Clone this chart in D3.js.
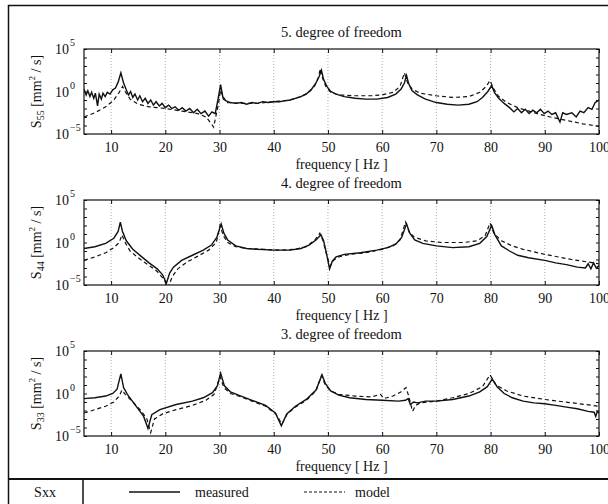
<!DOCTYPE html>
<html>
<head>
<meta charset="utf-8">
<script src="https://cdn.jsdelivr.net/npm/d3@7"></script>
<style>
  body { margin: 0; background: #fff; }
  text { font-family: "Liberation Serif", "Times New Roman", serif; fill: #111; }
</style>
</head>
<body>
<svg id="chart" width="608" height="504"></svg>
<script>
// x ticks and y decades
const freqTicks = [10, 20, 30, 40, 50, 60, 70, 80, 90, 100];
const gridFreqs = [10, 20, 30, 40, 50, 60, 70, 80, 90];
const decadeTicks = [-5, -4, -3, -2, -1, 0, 1, 2, 3, 4, 5];
const decadeLabels = [5, 0, -5];
const panelTitles = ["5. degree of freedom", "4. degree of freedom", "3. degree of freedom"];
const panelSubs = ["55", "44", "33"];

// [frequency Hz, log10 of S]
const s55Measured = [[5,0.3],[5.4,-0.4],[5.7,0.1],[6.1,-0.6],[6.4,-0.1],[6.8,-0.8],[7.1,-0.2],[7.5,-1.7],[7.8,-0.3],[8.2,-0.9],[8.5,-0.2],[8.9,-0.6],[9.3,-0.1],[9.8,-0.3],[10.3,0.2],[10.8,0.4],[11.3,1.1],[11.8,2.2],[12.3,1.0],[12.8,0.2],[13.2,-0.4],[13.6,0.0],[14.0,-0.7],[14.4,-0.3],[14.9,-1.0],[15.3,-0.5],[15.8,-1.2],[16.3,-0.8],[16.8,-1.4],[17.3,-1.0],[17.8,-1.6],[18.3,-1.2],[18.9,-1.7],[19.4,-1.4],[20.0,-1.9],[20.6,-1.6],[21.2,-2.0],[21.8,-1.8],[22.5,-2.2],[23.1,-1.9],[23.8,-2.3],[24.5,-2.0],[25.2,-2.5],[25.9,-2.1],[26.6,-2.6],[27.3,-2.3],[28.0,-2.9],[28.6,-2.4],[29.2,-2.6],[29.7,-1.0],[30.2,0.8],[30.6,-0.6],[31.2,-1.1],[32,-1.3],[33,-1.4],[34,-1.3],[35,-1.5],[36,-1.3],[37,-1.4],[38,-1.2],[39,-1.3],[40,-1.2],[41,-1.2],[42,-1.1],[43,-1.0],[44,-0.8],[45,-0.6],[46,-0.3],[47,0.3],[47.8,1.0],[48.4,1.8],[48.8,2.5],[49.2,1.4],[49.8,0.6],[50.5,0.0],[51.5,-0.3],[53,-0.6],[55,-0.8],[57,-0.9],[59,-0.9],[61,-0.7],[62.5,-0.3],[63.5,0.3],[64.1,1.0],[64.5,1.9],[64.9,0.9],[65.5,0.1],[66.5,-0.4],[68,-0.9],[70,-1.3],[72,-1.5],[74,-1.6],[76,-1.5],[77.5,-1.2],[78.5,-0.7],[79.5,0.0],[80.2,0.7],[80.7,-0.1],[81.5,-0.8],[82.5,-1.4],[83.5,-1.9],[84.3,-2.4],[85,-2.0],[85.7,-2.5],[86.4,-2.1],[87.1,-2.6],[87.8,-2.2],[88.5,-2.5],[89.2,-2.1],[89.9,-2.6],[90.6,-2.3],[91.3,-2.7],[92,-2.5],[92.8,-3.6],[93.3,-2.5],[94,-2.7],[95,-2.5],[95.8,-3.0],[96.5,-2.3],[97.2,-2.5],[98,-1.9],[98.7,-2.1],[99.3,-1.3],[100,-1.0]];
const s55Model = [[5,-3.0],[7,-2.5],[9,-1.8],[10.5,-1.0],[11.5,-0.1],[12.1,0.6],[12.6,0.0],[13.5,-0.9],[15,-1.5],[17,-1.8],[20,-2.0],[23,-2.3],[26,-2.6],[27.5,-3.0],[28.5,-3.8],[28.9,-4.2],[29.3,-3.0],[29.8,-1.5],[30.2,0.2],[30.7,-0.9],[31.5,-1.3],[34,-1.4],[37,-1.4],[40,-1.2],[43,-1.0],[45,-0.6],[46.5,-0.1],[47.5,0.6],[48.2,1.6],[48.6,2.7],[49.0,1.6],[49.6,0.6],[50.5,-0.1],[52,-0.4],[55,-0.5],[58,-0.5],[60,-0.4],[62,-0.1],[63.3,0.6],[64.1,2.2],[64.7,1.0],[65.5,0.3],[67,-0.2],[70,-0.5],[73,-0.7],[76,-0.6],[78,-0.1],[79.2,0.6],[79.9,1.3],[80.5,0.4],[81.5,-0.6],[83,-1.3],[85,-1.9],[88,-2.5],[91,-3.0],[94,-3.4],[97,-3.8],[100,-4.1]];

const s44Measured = [[5,-0.7],[7,-0.5],[9,-0.1],[10.5,0.5],[11.3,1.3],[11.7,2.4],[12.1,1.3],[12.8,0.2],[14,-0.8],[15.5,-1.6],[17,-2.4],[18.5,-3.1],[19.5,-3.8],[20.2,-4.8],[20.8,-3.6],[21.5,-2.9],[23,-2.1],[25,-1.5],[27,-0.9],[28.5,-0.3],[29.5,0.6],[30.3,2.2],[30.8,1.1],[31.5,0.3],[33,-0.4],[35,-0.7],[37,-0.8],[40,-0.9],[43,-0.9],[45,-0.7],[46.5,-0.3],[47.8,0.3],[48.7,0.9],[49.2,0.2],[49.7,-1.2],[50.3,-3.1],[50.8,-2.2],[51.5,-1.7],[53,-1.4],[56,-1.2],[59,-0.9],[61,-0.6],[62.5,-0.2],[63.6,0.6],[64.5,2.2],[65.1,1.1],[66,0.3],[67.5,-0.1],[70,-0.4],[73,-0.6],[76,-0.5],[78,-0.1],[79.3,0.7],[80.2,2.0],[80.8,0.9],[82,-0.4],[83.5,-1.0],[85,-1.5],[87,-1.8],[90,-2.1],[92,-2.4],[94,-2.6],[96,-2.9],[97.5,-3.0],[98,-2.5],[98.5,-3.1],[99,-2.4],[99.5,-3.0],[100,-2.7]];
const s44Model = [[5,-2.1],[7,-1.7],[9,-1.2],[10.5,-0.6],[11.5,0.0],[12.0,0.9],[12.5,0.1],[13.5,-1.0],[15,-1.8],[17,-2.7],[18.5,-3.4],[19.7,-4.3],[20.5,-5.3],[21.3,-4.0],[22.3,-3.1],[24,-2.3],[26,-1.6],[28,-0.9],[29.4,0.0],[30.1,2.0],[30.7,0.8],[31.5,0.0],[33,-0.5],[35,-0.7],[38,-0.8],[41,-0.9],[44,-0.8],[46,-0.5],[47.6,0.3],[48.5,1.1],[49.1,0.2],[49.7,-1.3],[50.4,-2.8],[51,-2.1],[52,-1.7],[54,-1.4],[57,-1.2],[60,-0.8],[62,-0.4],[63.3,0.3],[64.3,2.4],[65,1.2],[66,0.6],[68,0.2],[71,0.0],[75,0.0],[77.5,0.2],[79,0.8],[79.9,2.3],[80.6,1.1],[82,0.2],[84,-0.4],[86,-0.8],[90,-1.4],[95,-2.0],[100,-2.5]];

const s33Measured = [[5,-0.6],[7,-0.5],[9,-0.3],[10.3,0.0],[11.1,0.5],[11.8,2.3],[12.3,0.7],[13,-0.1],[14.5,-1.4],[16,-2.7],[16.8,-4.1],[17.5,-2.5],[19,-1.9],[22,-1.3],[25,-0.9],[27,-0.5],[28.7,0.1],[29.6,0.9],[30.2,2.4],[30.9,0.9],[32,0.2],[33.5,-0.2],[36,-0.8],[38.5,-1.4],[40.3,-2.3],[41.4,-3.8],[42.4,-2.4],[44,-1.5],[46,-0.7],[47.8,0.4],[48.9,2.2],[49.5,1.2],[50.5,0.3],[52,-0.2],[54,-0.5],[57,-0.7],[60,-0.8],[63,-0.9],[64.3,-0.8],[64.8,-0.6],[65.2,-1.3],[65.8,-1.0],[66.5,-1.1],[68,-0.9],[70,-0.9],[73,-0.7],[76,-0.3],[78,0.2],[79.4,0.8],[80.3,1.7],[81.2,0.8],[82.5,0.0],[84,-0.5],[86,-0.9],[88,-1.1],[90,-1.2],[92,-1.4],[94,-1.6],[96,-1.8],[98,-2.1],[99.1,-2.2],[99.4,-2.7],[99.7,-2.1],[100,-2.3]];
const s33Model = [[5,-2.3],[7,-1.9],[9,-1.5],[10.5,-1.0],[11.5,-0.3],[12.0,0.4],[12.6,-0.1],[14,-1.0],[15.5,-2.0],[16.6,-3.0],[17.3,-4.6],[18,-3.0],[19.5,-2.4],[22,-1.9],[25,-1.4],[27.5,-0.8],[29,-0.1],[30.1,2.0],[30.8,0.7],[32,0.0],[33.5,-0.3],[36,-0.9],[38.5,-1.5],[40.4,-2.4],[41.5,-3.6],[42.5,-2.4],[44,-1.6],[46,-0.8],[47.8,0.3],[48.8,2.1],[49.5,1.0],[50.5,0.3],[52,-0.1],[55,-0.3],[58,-0.4],[59.7,-0.1],[60.3,-0.6],[62,-0.3],[63.5,0.2],[64.4,0.7],[64.9,-0.3],[65.6,-2.1],[66.2,-1.4],[67,-1.1],[70,-0.9],[73,-0.5],[76,0.0],[78.5,0.8],[79.9,2.2],[81,1.0],[83,0.3],[86,-0.3],[90,-0.7],[95,-1.1],[100,-1.5]];

const panels = [
  { measured: s55Measured, model: s55Model },
  { measured: s44Measured, model: s44Model },
  { measured: s33Measured, model: s33Model }
];

const svg = d3.select("#chart");
const left = 84, right = 599, plotH = 85, step = 151, firstTop = 49;
const fs = 14;

// outer frame and legend row
svg.append("rect").attr("x", 8.5).attr("y", 5.5).attr("width", 660).attr("height", 560)
  .attr("fill", "none").attr("stroke", "#111").attr("stroke-width", 1.5);
svg.append("line").attr("x1", 8).attr("x2", 608).attr("y1", 479).attr("y2", 479)
  .attr("stroke", "#111").attr("stroke-width", 2);
svg.append("line").attr("x1", 83).attr("x2", 83).attr("y1", 479).attr("y2", 504)
  .attr("stroke", "#111").attr("stroke-width", 1.5);

const x = d3.scaleLinear().domain([5, 100]).range([left, right]);

panels.forEach((p, i) => {
  const top = firstTop + i * step, bottom = top + plotH;
  const y = d3.scaleLog().domain([1e-5, 1e5]).range([bottom, top]);
  const g = svg.append("g");

  g.append("clipPath").attr("id", "clip" + i)
    .append("rect").attr("x", left).attr("y", top).attr("width", right - left).attr("height", plotH);

  // dotted grid
  g.selectAll(".grid").data(gridFreqs).enter().append("line")
    .attr("x1", d => x(d)).attr("x2", d => x(d)).attr("y1", top).attr("y2", bottom)
    .attr("stroke", "#999").attr("stroke-width", 0.8).attr("stroke-dasharray", "1,2");

  // x ticks top and bottom
  const xAxis = d3.axisBottom(x).tickValues(freqTicks).tickSizeInner(-4).tickSizeOuter(0).tickPadding(8);
  const ax = g.append("g").attr("transform", `translate(0,${bottom})`).call(xAxis);
  ax.select(".domain").remove();
  ax.selectAll("text").attr("font-size", fs).attr("font-family", "Liberation Serif").attr("fill", "#111");
  ax.selectAll("line").attr("stroke", "#111");
  const axTop = d3.axisTop(x).tickValues(freqTicks).tickSizeInner(-4).tickSizeOuter(0).tickFormat("");
  const at = g.append("g").attr("transform", `translate(0,${top})`).call(axTop);
  at.select(".domain").remove();
  at.selectAll("line").attr("stroke", "#111");

  // y decade ticks left and right
  const yTickVals = decadeTicks.map(e => Math.pow(10, e));
  const ayl = g.append("g").attr("transform", `translate(${left},0)`)
    .call(d3.axisLeft(y).tickValues(yTickVals).tickSizeInner(-3).tickSizeOuter(0).tickFormat(""));
  ayl.select(".domain").remove();
  ayl.selectAll("line").attr("stroke", "#111");
  const ayr = g.append("g").attr("transform", `translate(${right},0)`)
    .call(d3.axisRight(y).tickValues(yTickVals).tickSizeInner(-3).tickSizeOuter(0).tickFormat(""));
  ayr.select(".domain").remove();
  ayr.selectAll("line").attr("stroke", "#111");

  // y tick labels 10^e
  decadeLabels.forEach(e => {
    const ty = y(Math.pow(10, e));
    g.append("text").attr("x", 69).attr("y", ty + 5).attr("text-anchor", "end")
      .attr("font-size", fs).text("10");
    g.append("text").attr("x", 70).attr("y", ty - 3).attr("font-size", 10)
      .text(e < 0 ? "\u2212" + Math.abs(e) : String(e));
  });

  // y label
  const yl = g.append("text")
    .attr("transform", `translate(41,${(top + bottom) / 2}) rotate(-90)`)
    .attr("text-anchor", "middle").attr("font-size", fs);
  yl.append("tspan").text("S");
  yl.append("tspan").attr("font-size", 10).attr("dy", 3).text(panelSubs[i]);
  yl.append("tspan").attr("dy", -3).text("  [mm");
  yl.append("tspan").attr("font-size", 9).attr("dy", -6).text("2");
  yl.append("tspan").attr("dy", 6).text(" / s]");

  // title and x label
  g.append("text").attr("x", (left + right) / 2).attr("y", top - 12)
    .attr("text-anchor", "middle").attr("font-size", 14.5).text(panelTitles[i]);
  g.append("text").attr("x", (left + right) / 2).attr("y", bottom + 35)
    .attr("text-anchor", "middle").attr("font-size", fs).text("frequency [ Hz ]");

  // curves
  const line = d3.line().x(d => x(d[0])).y(d => y(Math.pow(10, d[1])));
  const lines = g.append("g").attr("clip-path", `url(#clip${i})`);
  lines.append("path").datum(p.model).attr("d", line).attr("fill", "none")
    .attr("stroke", "#111").attr("stroke-width", 1.2).attr("stroke-dasharray", "4,3");
  lines.append("path").datum(p.measured).attr("d", line).attr("fill", "none")
    .attr("stroke", "#111").attr("stroke-width", 1.4);

  // plot frame
  g.append("rect").attr("x", left).attr("y", top).attr("width", right - left).attr("height", plotH)
    .attr("fill", "none").attr("stroke", "#111").attr("stroke-width", 1.2);
});

// legend row
svg.append("text").attr("x", 45).attr("y", 497).attr("text-anchor", "middle")
  .attr("font-size", fs).text("Sxx");
svg.append("line").attr("x1", 129).attr("x2", 180).attr("y1", 492).attr("y2", 492)
  .attr("stroke", "#111").attr("stroke-width", 1.5);
svg.append("text").attr("x", 195).attr("y", 497).attr("font-size", fs).text("measured");
svg.append("line").attr("x1", 304).attr("x2", 345).attr("y1", 492).attr("y2", 492)
  .attr("stroke", "#111").attr("stroke-width", 1).attr("stroke-dasharray", "3,2");
svg.append("text").attr("x", 355).attr("y", 497).attr("font-size", fs).text("model");
</script>
</body>
</html>
